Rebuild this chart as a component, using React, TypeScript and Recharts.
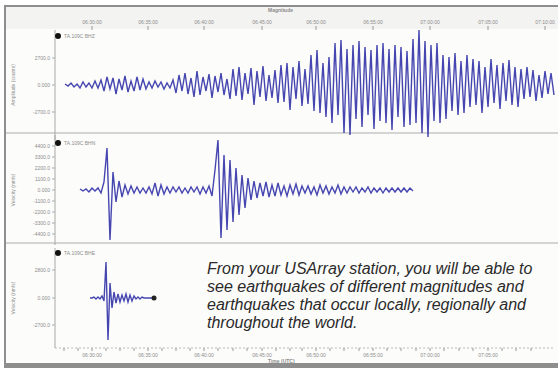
import React from "react";
import { Line, LineChart, ReferenceDot, XAxis, YAxis } from "recharts";

// ground motion, one value per sample (counts, scaled)
const distantQuake = [
  1, -1, 2, -2, 1, -3, 3, -2, 2, -3, 4, -3,
  5, -6, 8, -4, 7, -9, 6, -5, 9, -7, 4, -6, 8, -5, 6, -4, 3,
  -3, 4, -2, 3, -4, 2, -3, 5,
  -8, 10, -6, 12, -9, 7, -12, 14, -10, 8, -6, 11, -13, 9, -7, 12, -10, 6,
  -14, 16, -11, 18, -15, 12, -9, 17, -20, 14, -12, 19, -16, 10, -13, 15, -18,
  20, -17, 22, -25, 18, -14, 24, -21, 16, -19,
  30, -26, 35, -28, 22, -32, 28,
  -38, 42, -30, 45, -48, 36, -50, 40, -34, 44, -42, 38, -30, 35, -44, 40, -36,
  42, -38, 36, -45, 40, -32, 38, -42, 34, -40, 46, -38, 55,
  -48, 44, -52, 40, -36, 42, -38,
  30, -34, 28, -26, 32, -30, 24, -28, 30, -22,
  26, -20, 24, -28, 18, -22, 26, -18, 20, -24, 22, -16, 25, -20, 18, -22, 16,
  -14, 18, -12, 15, -16, 10, -13, 14, -9, 12, -10,
];

const regionalQuakes = [
  1, -1, 1, -2, 2, -1, 2, -3, 8, 42, -50, 18, -12, 9, -7, 5, -4, 4, -3, 3,
  -3, 2, -3, 3, -4, 7, -6, 5, -4, 3, -3, 3, -2, 3, -3, 2, -3, 3, -2, 3,
  -4, 3, -3, 4, -6, 20, 50, -48, 35, -40, 30, -32, 22, -25, 15, -18, 12, -10, 9, -8,
  7, -6, 8, -7, 5, -6, 7, -5, 4, -6, 5, -4, 6, -5, 4, -3, 4, -4, 3, -5,
  5, -3, 4, -4, 3, -3, 5, -4, 3, -3, 3, -2, 3, -3, 2, -2, 3, -3, 2, -2,
  2, -3, 2, -2, 2, -2, 2, -2, 2, -2, 2, -1,
];

const localQuake = [
  0, 0, 1, -1, 1, -1, 2, -3, 36, -42, 15, -10, 6, -5, 4, -4, 3, -3, 4, -4,
  3, -3, 2, -1, 1, -1, 1, 0, 0, 0, 0, 0, 0,
];

const timeTicks = [37, 93, 149, 207, 261, 318, 375, 433, 490];
const timeLabels = [
  "06:30:00", "06:35:00", "06:40:00", "06:45:00", "06:50:00",
  "06:55:00", "07:00:00", "07:05:00", "07:10:00",
];
const minorTicks = [
  9, 23, 51, 65, 79, 107, 121, 135, 163, 178, 192, 221, 235, 247, 275, 289,
  304, 332, 346, 361, 389, 404, 418, 447, 461, 476, 504,
];

const toSeries = (values: number[], start: number, step: number) =>
  values.map((v, i) => ({ t: start + i * step, v }));

const farData = toSeries(distantQuake, 10, 3);
const regionalData = toSeries(regionalQuakes, 25, 3);
const localData = toSeries(localQuake, 35, 2);

const font = "'Liberation Sans', Arial, sans-serif";
const trace = "#3232a8";
const axisGray = "#a8a8a8";
const tickText = { fontSize: 5, fill: "#8c8c8c", fontFamily: font };

const timeLabel = (t: number) => {
  const i = timeTicks.indexOf(t);
  return i >= 0 ? timeLabels[i] : "";
};

const amp = (v: number) => (v === 0 ? "0.000" : `${v > 0 ? "" : "-"}${Math.abs(v) * 100}.0`);

function Station({ x, y, name }: { x: number; y: number; name: string }) {
  return (
    <>
      <div
        style={{
          position: "absolute",
          left: x - 3,
          top: y - 3,
          width: 6,
          height: 6,
          borderRadius: 3,
          background: "#111",
        }}
      />
      <div
        style={{
          position: "absolute",
          left: x + 6,
          top: y - 3,
          fontSize: 5,
          color: "#8c8c8c",
          fontFamily: font,
          whiteSpace: "nowrap",
        }}
      >
        {name}
      </div>
    </>
  );
}

function SideLabel({ top, text }: { top: number; text: string }) {
  return (
    <div
      style={{
        position: "absolute",
        left: 13,
        top,
        fontSize: 5,
        color: "#8c8c8c",
        fontFamily: font,
        whiteSpace: "nowrap",
        transform: "translate(-50%, -50%) rotate(-90deg)",
      }}
    >
      {text}
    </div>
  );
}

export default function App() {
  return (
    <div
      style={{
        position: "absolute",
        left: 0,
        top: 0,
        width: 558,
        height: 371,
        background: "#fff",
        overflow: "hidden",
        fontFamily: font,
      }}
    >
      {/* frame */}
      <div
        style={{
          position: "absolute",
          left: 4,
          top: 5,
          width: 556,
          height: 356,
          borderTop: "2px solid #8e8e8e",
          borderLeft: "2px solid #8e8e8e",
          borderBottom: "5px solid #8e8e8e",
          background: "#fcfcfa",
        }}
      />
      <div style={{ position: "absolute", left: 6, top: 7, width: 552, height: 22, background: "#f3f3f1" }} />
      <div style={{ position: "absolute", left: 6, top: 132, width: 552, height: 2, background: "#d4d4d4" }} />
      <div style={{ position: "absolute", left: 6, top: 242, width: 552, height: 2, background: "#d4d4d4" }} />

      <div
        style={{
          position: "absolute",
          left: 268,
          top: 7,
          fontSize: 5,
          color: "#8c8c8c",
          fontWeight: "bold",
        }}
      >
        Magnitude
      </div>

      <div style={{ position: "absolute", left: 0, top: 0 }}>
        <LineChart width={558} height={140} data={farData} margin={{ top: 0, right: 3, bottom: 0, left: 0 }}>
          <XAxis
            type="number"
            dataKey="t"
            orientation="top"
            domain={[0, 500]}
            ticks={timeTicks}
            tickFormatter={timeLabel}
            height={30}
            tickSize={4}
            tick={tickText}
            tickLine={{ stroke: "#999" }}
            axisLine={false}
          />
          <YAxis
            type="number"
            width={55}
            domain={[-55, 55]}
            ticks={[-27, 0, 27]}
            tickFormatter={amp}
            tick={tickText}
            tickSize={3}
            tickLine={{ stroke: axisGray }}
            axisLine={{ stroke: axisGray }}
          />
          <Line dataKey="v" stroke={trace} strokeWidth={1.4} strokeOpacity={0.9} dot={false} isAnimationActive={false} />
        </LineChart>
      </div>

      <div style={{ position: "absolute", left: 0, top: 133 }}>
        <LineChart width={558} height={115} data={regionalData} margin={{ top: 2, right: 3, bottom: 3, left: 0 }}>
          <XAxis hide type="number" dataKey="t" domain={[0, 500]} />
          <YAxis
            type="number"
            width={55}
            domain={[-55, 55]}
            ticks={[-44, -33, -22, -11, 0, 11, 22, 33, 44]}
            tickFormatter={amp}
            tick={tickText}
            tickSize={3}
            tickLine={{ stroke: axisGray }}
            axisLine={{ stroke: axisGray }}
          />
          <Line dataKey="v" stroke={trace} strokeWidth={1.4} strokeOpacity={0.9} dot={false} isAnimationActive={false} />
        </LineChart>
      </div>

      <div style={{ position: "absolute", left: 0, top: 243 }}>
        <LineChart width={558} height={125} data={localData} margin={{ top: 5, right: 3, bottom: 0, left: 0 }}>
          <XAxis
            type="number"
            dataKey="t"
            domain={[0, 500]}
            ticks={[...timeTicks, ...minorTicks].sort((a, b) => a - b)}
            tickFormatter={timeLabel}
            height={20}
            tickSize={3}
            tick={tickText}
            tickLine={{ stroke: "#999" }}
            axisLine={{ stroke: "#bbb", strokeDasharray: "2 2" }}
          />
          <YAxis
            type="number"
            width={55}
            domain={[-50, 50]}
            ticks={[-27, 0, 28]}
            tickFormatter={amp}
            tick={tickText}
            tickSize={3}
            tickLine={{ stroke: axisGray }}
            axisLine={{ stroke: axisGray }}
          />
          <Line dataKey="v" stroke={trace} strokeWidth={1.4} strokeOpacity={0.9} dot={false} isAnimationActive={false} />
          <ReferenceDot x={localData[localData.length - 1].t} y={0} r={2.5} fill="#222" stroke="none" />
        </LineChart>
      </div>

      <div
        style={{
          position: "absolute",
          left: 268,
          top: 358,
          fontSize: 5,
          color: "#8c8c8c",
          fontWeight: "bold",
        }}
      >
        Time (UTC)
      </div>

      <Station x={58} y={36} name="TA.109C BHZ" />
      <Station x={58} y={143} name="TA.109C BHN" />
      <Station x={58} y={253} name="TA.109C BHE" />

      <SideLabel top={85} text="Amplitude (counts)" />
      <SideLabel top={190} text="Velocity (nm/s)" />
      <SideLabel top={298} text="Velocity (nm/s)" />

      <div
        style={{
          position: "absolute",
          left: 207,
          top: 260,
          width: 350,
          fontSize: 16,
          lineHeight: "18px",
          fontStyle: "italic",
          color: "#2a2a2a",
          fontFamily: font,
          whiteSpace: "nowrap",
        }}
      >
        From your USArray station, you will be able to
        <br />
        see earthquakes of different magnitudes and
        <br />
        earthquakes that occur locally, regionally and
        <br />
        throughout the world.
      </div>
    </div>
  );
}
